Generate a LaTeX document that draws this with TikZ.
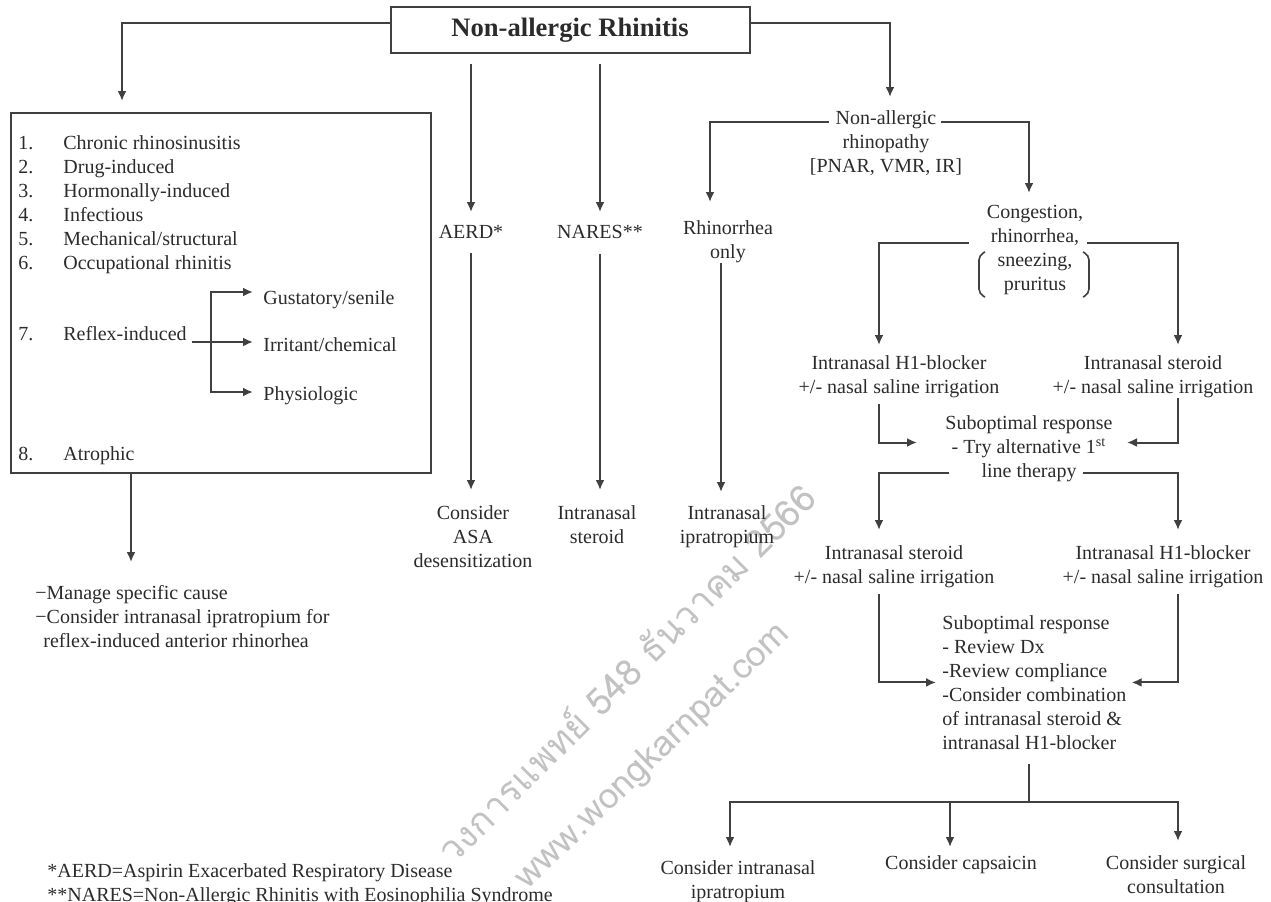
\documentclass[tikz,border=0pt]{standalone}
\usepackage{fontspec}
\setmainfont{Liberation Serif}
\newfontfamily\thaifont[Script=Thai]{Loma}
\usetikzlibrary{arrows.meta,positioning}
\definecolor{LineClr}{rgb}{0.25,0.25,0.25}
\definecolor{TextClr}{rgb}{0.17,0.17,0.17}
\definecolor{MarkClr}{rgb}{0.76,0.76,0.76}

\tikzset{
  txt/.style={inner sep=0pt, text=TextClr, font=\fontsize{10}{12}\selectfont, align=center, anchor=north},
  item/.style={inner sep=0pt, text=TextClr, font=\fontsize{10}{12}\selectfont, anchor=base west},
  arr/.style={draw=LineClr, line width=1pt, -{Latex[length=5pt,width=4.5pt]}},
  plain/.style={draw=LineClr, line width=1pt},
  paren/.style={draw=LineClr, line width=0.8pt, rounded corners=2.5pt},
  wmtext/.style={inner sep=0pt, text=MarkClr}
}

\begin{document}
\begin{tikzpicture}[x=0.5pt,y=-0.5pt]
\useasboundingbox (0,0) rectangle (1271,901);

% watermark
\node[wmtext, rotate=45, font=\thaifont\fontsize{18.5}{18.5}\selectfont] (wmthai) at (625,672) {วงการแพทย์ 548 ธันวาคม 2566};
\node[wmtext, rotate=44, font=\thaifont\fontsize{17.7}{17.7}\selectfont] (wmweb) at (653,757) {www.wongkarnpat.com};

% top
\node[draw=LineClr, line width=1pt, minimum width=179.5pt, minimum height=23pt, inner sep=0pt,
      text=TextClr, font=\fontsize{13.3}{16}\selectfont\bfseries] (nar) at (570,30) {Non-allergic Rhinitis};

% left column
\node[draw=LineClr, line width=1pt, minimum width=210pt, minimum height=180pt, inner sep=0pt] (causes) at (221,293) {};
\foreach \t [count=\i] in {Chronic rhinosinusitis, Drug-induced, Hormonally-induced, Infectious,
                           {Mechanical/structural}, Occupational rhinitis}{
  \node[item] (num\i) at (18,{149+24*(\i-1)}) {\i.};
  \node[item] (cause\i) at (63,{149+24*(\i-1)}) {\t};
}
\node[item] (num7) at (18,340) {7.};
\node[item] (reflex) at (63,340) {Reflex-induced};
\node[item] (num8) at (18,460) {8.};
\node[item] (cause8) at (63,460) {Atrophic};

\node[item] (gust) at (263,304) {Gustatory/senile};
\node[item] (irr) at (263,351) {Irritant/chemical};
\node[item] (phys) at (263,400) {Physiologic};
\coordinate (jn) at (211,342);

\node[txt, anchor=north west, align=left] (manage) at (35,585)
  {−Manage specific cause\\−Consider intranasal ipratropium for\\\hspace*{4pt}reflex-induced anterior rhinorhea};
\node[txt, anchor=north west, align=left] (notes) at (47,863)
  {*AERD=Aspirin Exacerbated Respiratory Disease\\**NARES=Non-Allergic Rhinitis with Eosinophilia Syndrome};

% middle columns
\node[txt] (aerd) at (471,225) {AERD*};
\node[txt] (nares) at (600,225) {NARES**};
\node[txt] (asa) at (473,505) {Consider\\ASA\\desensitization};
\node[txt] (nasster) at (597,505) {Intranasal\\steroid};

% right part
\node[txt] (rhinopathy) at (886,110) {Non-allergic\\rhinopathy\\{[PNAR, VMR, IR]}};
\node[txt] (rhinonly) at (728,220) {Rhinorrhea\\only};
\node[txt] (ipra) at (727,505) {Intranasal\\ipratropium};
\node[txt] (cong) at (1035,205) {Congestion,\\rhinorrhea,\\sneezing,\\pruritus};
\node[txt] (honeA) at (899,355) {Intranasal H1-blocker\\+/- nasal saline irrigation};
\node[txt] (sterA) at (1153,355) {Intranasal steroid\\+/- nasal saline irrigation};
\node[txt] (subA) at (1029,415) {Suboptimal response\\- Try alternative 1\textsuperscript{st}\\line therapy};
\node[txt] (sterB) at (894,545) {Intranasal steroid\\+/- nasal saline irrigation};
\node[txt] (honeB) at (1163,545) {Intranasal H1-blocker\\+/- nasal saline irrigation};
\node[txt, align=left, anchor=north west] (subB) at (942,615)
  {Suboptimal response\\- Review Dx\\-Review compliance\\-Consider combination\\of intranasal steroid \&\\intranasal H1-blocker};
\node[txt] (ipraB) at (738,860) {Consider intranasal\\ipratropium};
\node[txt] (caps) at (961,855) {Consider capsaicin};
\node[txt] (surg) at (1176,855) {Consider surgical\\consultation};
\coordinate (split) at (1029,802);
\coordinate (ri) at ([xshift=-3.5pt]rhinonly.south);

% brackets round sneezing, pruritus
\draw[paren] (985,252) -- (979,255) -- (979,294) -- (985,297);
\draw[paren] (1083,252) -- (1089,255) -- (1089,294) -- (1083,297);

% connectors
\draw[arr, shorten >=5.5pt] ([yshift=3.5pt]nar.west) -| (causes.north -| 122,0);
\draw[arr, shorten >=6.5pt] ([yshift=3.5pt]nar.east) -| ([xshift=2pt]rhinopathy.north);
\draw[arr, shorten <=5pt, shorten >=6.5pt] (nar.south -| aerd.north) -- (aerd.north);
\draw[arr, shorten <=5pt, shorten >=6.5pt] (nar.south -| nares.north) -- (nares.north);
\draw[arr, shorten <=7.2pt, shorten >=7.5pt] (aerd.south) -- (aerd.south |- asa.north);
\draw[arr, shorten <=7.2pt, shorten >=7.5pt] (nares.south) -- (nares.south |- nasster.north);

\draw[arr, shorten <=2.5pt, shorten >=5pt] (reflex.east |- jn) -- (irr.west |- jn);
\draw[arr, shorten >=5pt] (jn) |- ([yshift=6pt]gust.base west);
\draw[arr, shorten >=5pt] (jn) |- ([yshift=4pt]phys.base west);
\draw[arr, shorten >=11.5pt] (causes.south -| 131,0) -- (manage.north -| 131,0);

\draw[arr, shorten >=9pt] ([xshift=-28.5pt,yshift=-6pt]rhinopathy.north) -| ([xshift=-9pt]rhinonly.north);
\draw[arr, shorten >=6pt] ([xshift=27.5pt,yshift=-6pt]rhinopathy.north) -| ([xshift=-3pt]cong.north);
\draw[arr, shorten >=6.5pt] (ri) -- (ri |- ipra.north);

\draw[arr, shorten >=5pt] ([xshift=-33pt,yshift=-19pt]cong.north) -| ([xshift=-10pt]honeA.north);
\draw[arr, shorten >=5pt] ([xshift=26pt,yshift=-19pt]cong.north) -| ([xshift=12.5pt]sterA.north);
\draw[arr, shorten <=3pt, shorten >=14pt] ([xshift=-10pt]honeA.south) |- ([yshift=3pt]subA.west);
\draw[arr, shorten >=7pt] ([xshift=12.5pt]sterA.south) |- ([yshift=3pt]subA.east);
\draw[arr, shorten >=7.5pt] ([xshift=-40pt,yshift=4.5pt]subA.south) -| ([xshift=-7.5pt]sterB.north);
\draw[arr, shorten >=7.5pt] ([xshift=27pt,yshift=4.5pt]subA.south) -| ([xshift=7.5pt]honeB.north);
\draw[arr, shorten <=3pt, shorten >=3pt] ([xshift=-7.5pt]sterB.south) |- (subB.west);
\draw[arr, shorten <=3pt, shorten >=2.5pt] ([xshift=7.5pt]honeB.south) |- (subB.east);

\draw[plain, shorten <=7.2pt] (subB.south -| split) -- (split);
\draw[arr, shorten >=6.5pt] (split) -| ([xshift=-4pt]ipraB.north);
\draw[arr, shorten >=4pt] (split) -| ([xshift=-5.5pt]caps.north);
\draw[arr, shorten >=7pt] (split) -| ([xshift=1pt]surg.north);
\end{tikzpicture}
\end{document}
